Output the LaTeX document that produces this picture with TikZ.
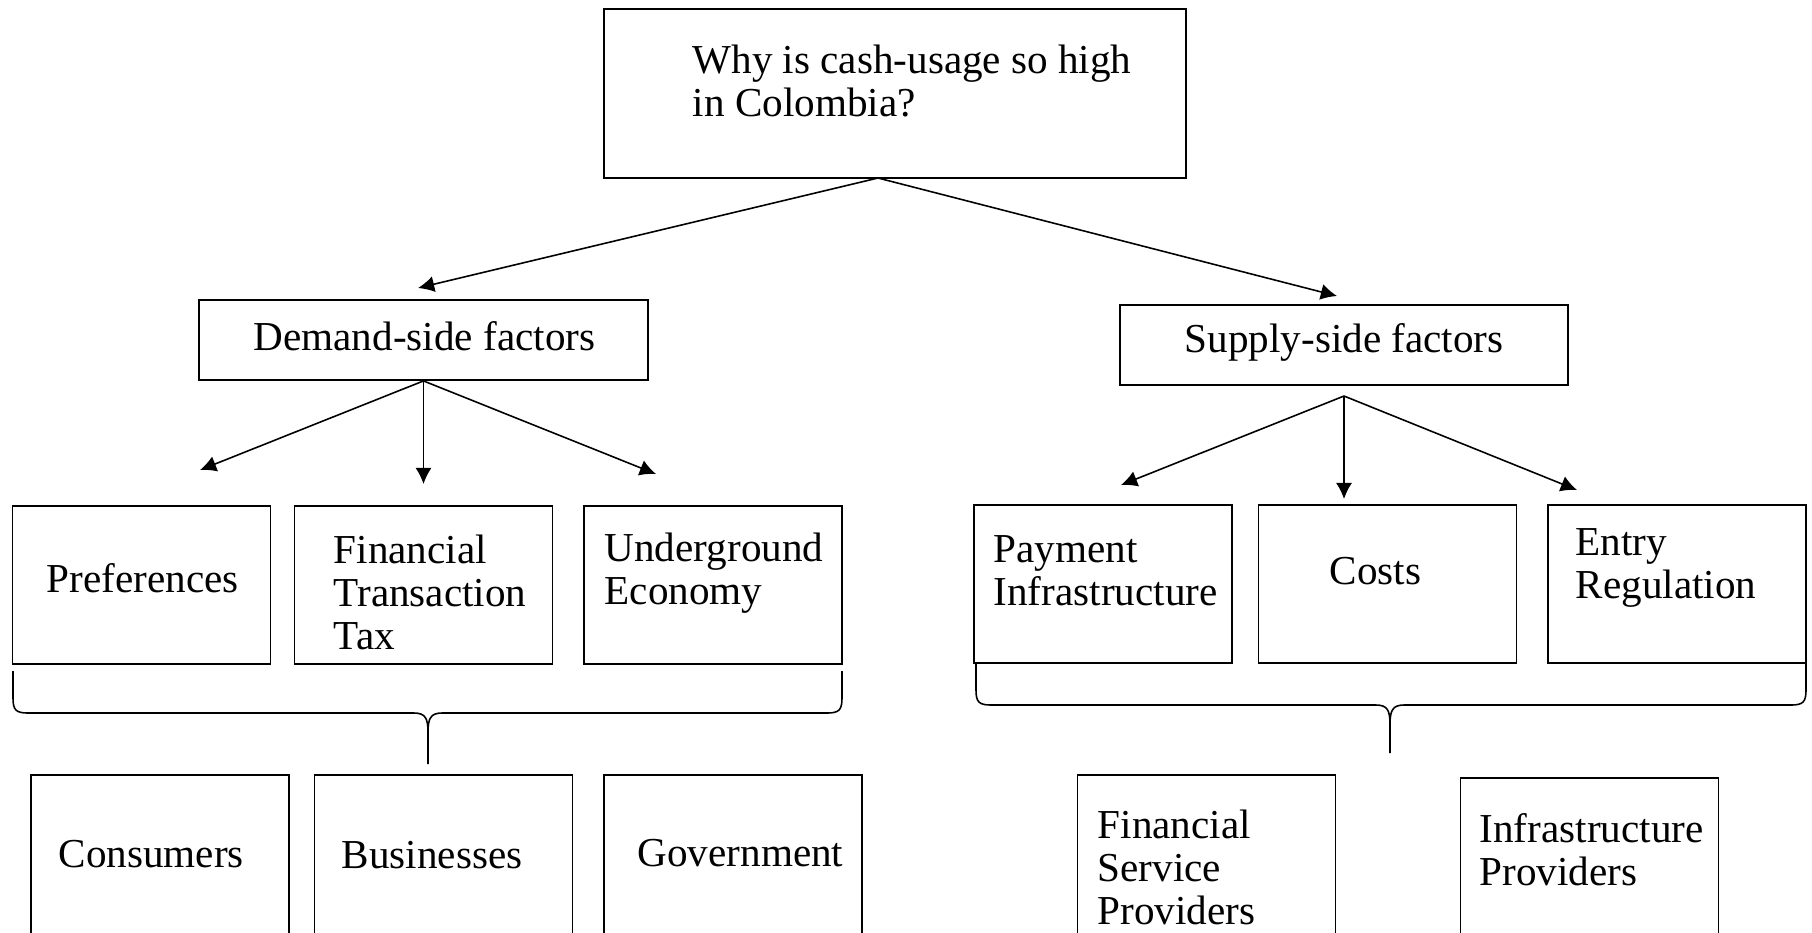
\documentclass[tikz,border=0pt]{standalone}
\usepackage{fontspec}
\setmainfont{Liberation Serif}
\usetikzlibrary{arrows.meta}
\begin{document}
\begin{tikzpicture}[x=0.01cm,y=-0.01cm]
\tikzstyle{box}=[rectangle,draw,line width=0.5pt,inner sep=0pt]
\tikzstyle{cell}=[box,minimum width=2.58cm,minimum height=1.58cm]
\tikzstyle{tall}=[box,minimum width=2.58cm,minimum height=1.9cm]
\tikzstyle{lbl}=[anchor=west,align=left,inner sep=0pt,font=\fontsize{11.7}{12.2}\selectfont]
\tikzstyle{arr}=[-{Latex[length=4.6pt,width=4.6pt]},line width=0.45pt]
\tikzstyle{brace}=[line width=0.45pt]

\useasboundingbox (0,0) rectangle (1812,932);
\clip (0,0) rectangle (1812,932);

\node[box,minimum width=5.82cm,minimum height=1.69cm] (q) at (895,93.5) {};
\node[lbl] (qT) at (692,81) {Why is cash-usage so high\\in Colombia?};

\node[box,minimum width=4.49cm,minimum height=0.8cm] (demand) at (423.5,340) {};
\node[lbl] (demandT) at (253,336) {Demand-side factors};
\node[box,minimum width=4.48cm,minimum height=0.8cm] (supply) at (1344,345) {};
\node[lbl] (supplyT) at (1184,342) {Supply-side factors};

\coordinate (qs) at (878,178);
\coordinate (dEnd) at (418,288);
\coordinate (sEnd) at (1337,296);
\draw[arr] (qs) -- (dEnd);
\draw[arr] (qs) -- (sEnd);

% demand side
\node[cell] (pref) at (141.5,585) {};
\node[lbl] (prefT) at (46,578) {Preferences};
\node[cell] (ftt) at (423.5,585) {};
\node[lbl] (fttT) at (333,592) {Financial\\Transaction\\Tax};
\node[cell] (under) at (713,585) {};
\node[lbl] (underT) at (604,573) {Underground\\Economy};

\coordinate (d1) at (200,470);
\coordinate (d2) at (423.5,484);
\coordinate (d3) at (656,474);
\draw[arr] (demand.south) -- (d1);
\draw[arr] (demand.south) -- (d2);
\draw[arr] (demand.south) -- (d3);

% supply side
\node[cell] (pay) at (1103,584) {};
\node[lbl] (payT) at (993,571) {Payment\\Infrastructure};
\node[cell] (costs) at (1387.5,584) {};
\node[lbl] (costsT) at (1329,571) {Costs};
\node[cell] (entry) at (1677,584) {};
\node[lbl] (entryT) at (1575,568) {Entry\\Regulation};

\coordinate (sDown) at (1344,396);
\coordinate (s1) at (1121,485);
\coordinate (s2) at (1344,499);
\coordinate (s3) at (1577,490);
\draw[arr] (sDown) -- (s1);
\draw[arr] (sDown) -- (s2);
\draw[arr] (sDown) -- (s3);

% braces
\draw[brace] (13,671) -- (13,698) .. controls (13,710) and (16,713) .. (28,713) -- (414,713)
  .. controls (425,713) and (428,718) .. (428,732) -- (428,764);
\draw[brace] (842,671) -- (842,698) .. controls (842,710) and (839,713) .. (827,713) -- (442,713)
  .. controls (431,713) and (428,718) .. (428,732);
\draw[brace] (976,664) -- (976,690) .. controls (976,702) and (979,705) .. (991,705) -- (1376,705)
  .. controls (1387,705) and (1390,710) .. (1390,724) -- (1390,753);
\draw[brace] (1806,664) -- (1806,690) .. controls (1806,702) and (1803,705) .. (1791,705) -- (1404,705)
  .. controls (1393,705) and (1390,710) .. (1390,724);

% actors
\node[tall] (cons) at (160,870) {};
\node[lbl] (consT) at (58,854) {Consumers};
\node[tall] (bus) at (443.5,870) {};
\node[lbl] (busT) at (341,855) {Businesses};
\node[tall] (gov) at (733,870) {};
\node[lbl] (govT) at (637,853) {Government};
\node[tall] (fsp) at (1206.5,870) {};
\node[lbl] (fspT) at (1097,867) {Financial\\Service\\Providers};
\node[tall] (infra) at (1589.5,873) {};
\node[lbl] (infraT) at (1479,850) {Infrastructure\\Providers};

\end{tikzpicture}
\end{document}
